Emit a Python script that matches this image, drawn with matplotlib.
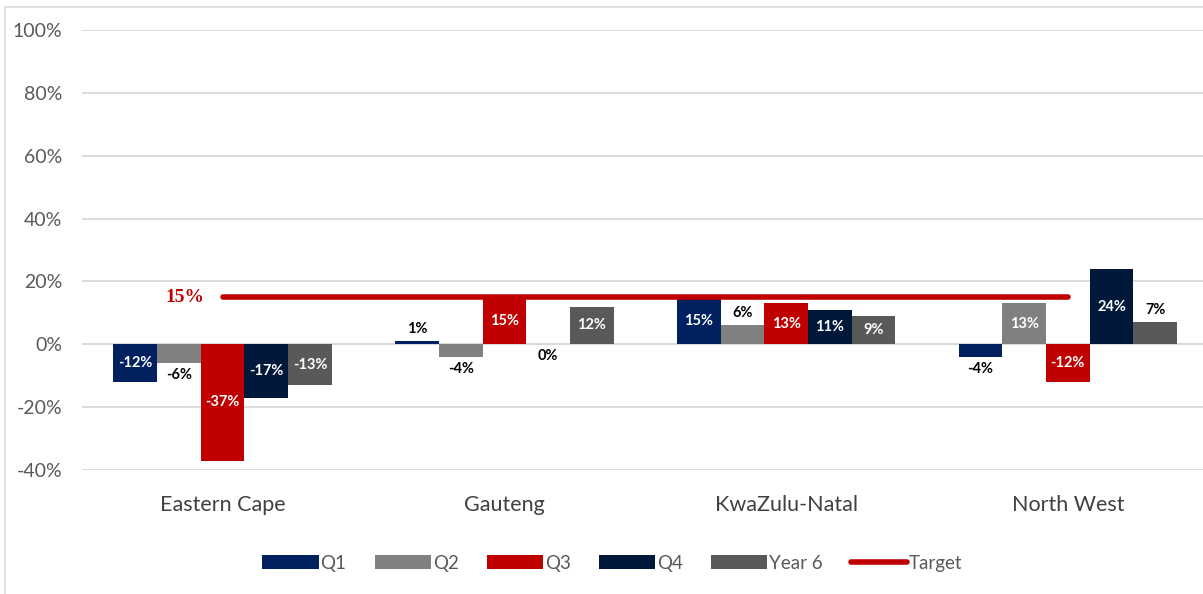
import numpy as np
import matplotlib
matplotlib.use("Agg")
import matplotlib.pyplot as plt
from matplotlib.patches import Rectangle
from matplotlib.lines import Line2D
from matplotlib.patches import Patch

provinces = ["Eastern Cape", "Gauteng", "KwaZulu-Natal", "North West"]
q1 = [-12, 1, 15, -4]
q2 = [-6, -4, 6, 13]
q3 = [-37, 15, 13, -12]
q4 = [-17, 0, 11, 24]
year6 = [-13, 12, 9, 7]
target = 15

series_names = ["Q1", "Q2", "Q3", "Q4", "Year 6"]
colors = ["#002060", "#808080", "#C00000", "#00183A", "#595959"]


def main():
    plt.rcParams['font.family'] = ['Lato', 'DejaVu Sans']
    fig = plt.figure(figsize=(12.03, 5.94), dpi=100)
    ax = fig.add_axes([0.068, 0.2088, 0.932, 0.7407])

    # outer chart border
    fig.patches.append(Rectangle((0.004, -0.01), 1.0, 0.998,
                                 transform=fig.transFigure, fill=False,
                                 edgecolor="#D9D9D9", lw=1.2))

    x = np.arange(len(provinces))
    width = 0.155
    all_series = [q1, q2, q3, q4, year6]
    for i, vals in enumerate(all_series):
        pos = x + (i - 2) * width
        ax.bar(pos, vals, width=width, color=colors[i], zorder=3)
        for xp, v in zip(pos, vals):
            if abs(v) > 8:
                ax.text(xp, v / 2, f"{v}%", ha="center", va="center",
                        color="white", fontsize=10.5, fontweight="bold",
                        zorder=5)
            else:
                off = 3.8 if v > 0 else -3.8
                ax.text(xp, v + off, f"{v}%", ha="center", va="center",
                        color="black", fontsize=10.5, fontweight="bold",
                        zorder=5)

    ax.plot([x[0], x[-1]], [target, target], color="#C00000", lw=4,
            solid_capstyle="round", zorder=4)
    ax.text(-0.135, target, f"{target}%", color="#C00000", fontsize=14,
            fontweight="bold", family="Liberation Serif", ha="center",
            va="center")

    ax.set_xlim(-0.5, 3.48)
    ax.set_ylim(-40, 100)
    ax.set_yticks(range(-40, 101, 20))
    ax.set_yticklabels([f"{t}%" for t in range(-40, 101, 20)])
    ax.set_xticks(x)
    ax.set_xticklabels(provinces)
    ax.tick_params(axis="y", length=0, pad=14, labelsize=14,
                   labelcolor="#595959")
    ax.tick_params(axis="x", length=0, pad=18, labelsize=15.5,
                   labelcolor="#404040")
    ax.grid(axis="y", color="#D9D9D9", lw=1.3, zorder=0)
    for s in ax.spines.values():
        s.set_visible(False)
    ax.axhline(0, color="#D9D9D9", lw=1.3, zorder=2)

    handles = [Patch(facecolor=c) for c in colors]
    handles.append(Line2D([0], [0], color="#C00000", lw=4,
                          solid_capstyle="round"))
    fig.legend(handles, series_names + ["Target"], loc="center",
               bbox_to_anchor=(0.509, 0.052), ncol=6, frameon=False,
               fontsize=13.5, labelcolor="#595959", handlelength=3.0,
               handleheight=0.7, handletextpad=0.1, columnspacing=1.5)

    fig.savefig("out.png", dpi=100)


if __name__ == "__main__":
    main()
